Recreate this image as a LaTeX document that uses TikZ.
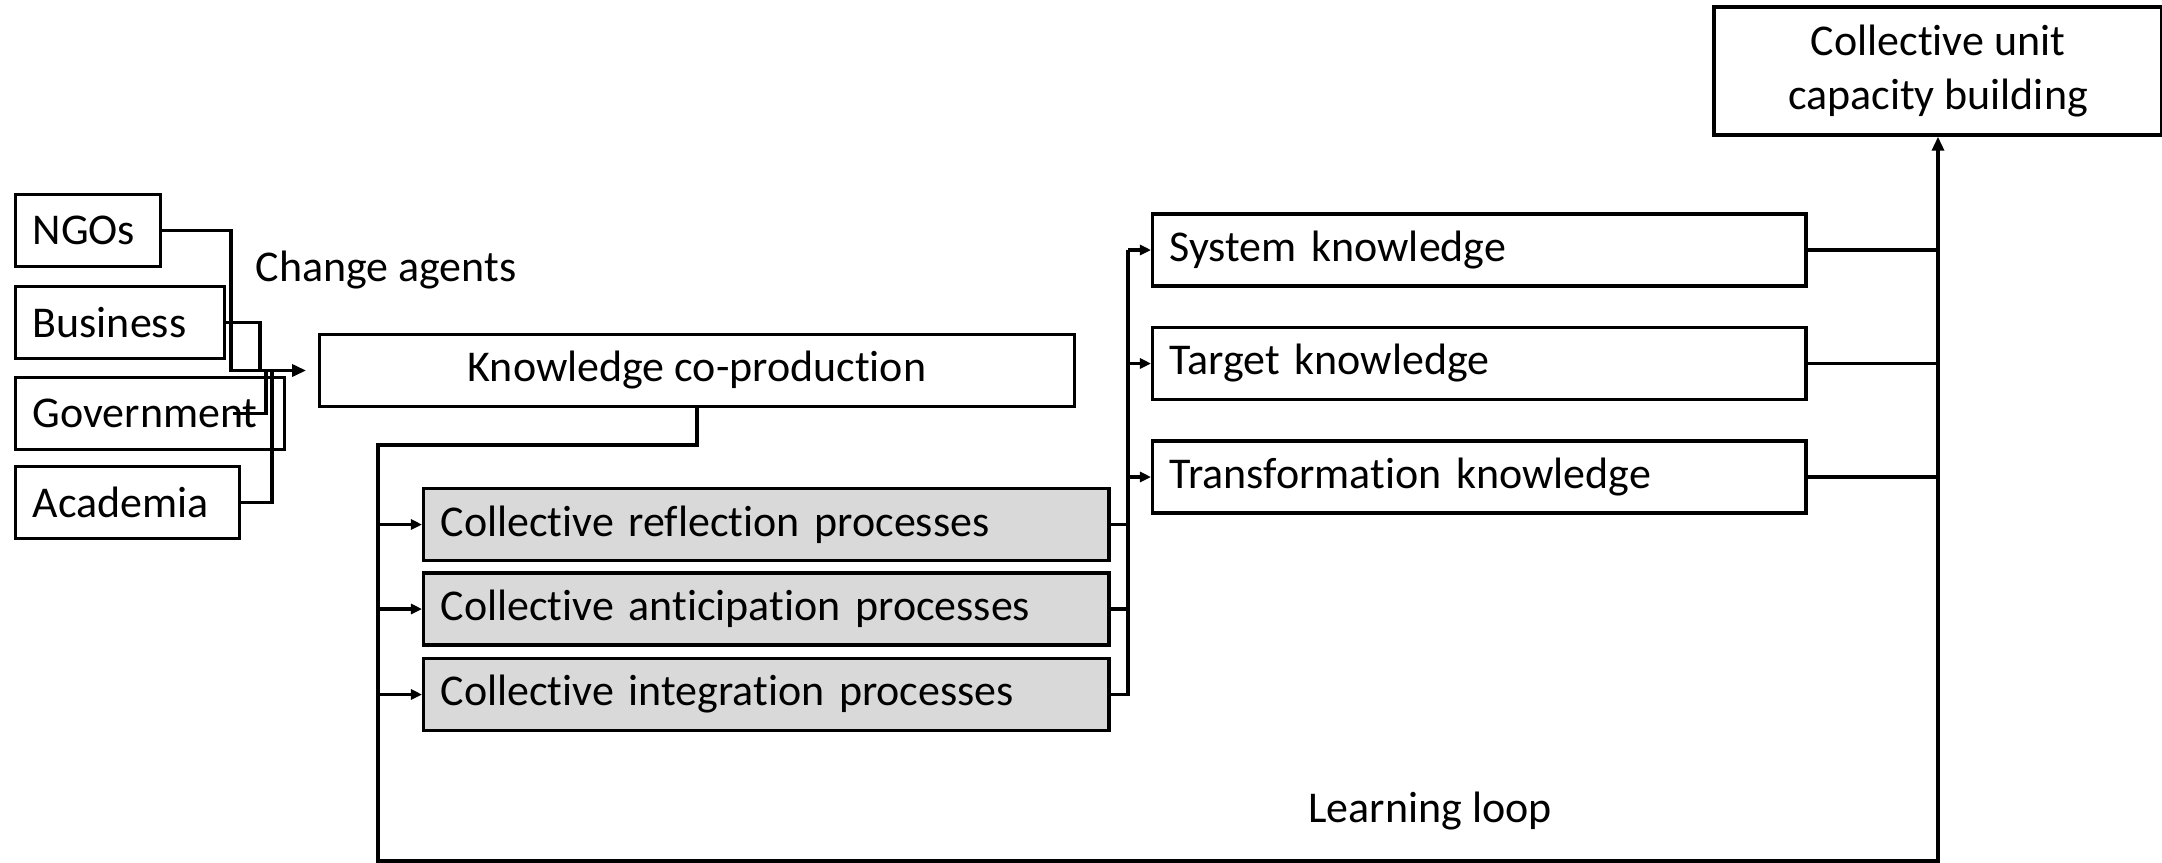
\documentclass[tikz,border=0pt]{standalone}
\usepackage{fontspec}
\setmainfont{Carlito}[Ligatures=NoCommon]
\usetikzlibrary{arrows.meta,calc}
\definecolor{procgray}{RGB}{217,217,217}
\tikzset{
  every node/.append style={font=\fontsize{12.5}{15.3}\selectfont},
  box/.style={draw, inner xsep=0.17cm, inner ysep=0pt, minimum height=0.72cm, align=left, anchor=west},
  agent/.style={box},
  proc/.style={box, fill=procgray, text width=6.51cm},
  know/.style={box, text width=6.19cm},
  arr/.style={-{Triangle[length=0.14cm,width=0.12cm]}},
  smallarr/.style={-{Triangle[length=0.11cm,width=0.1cm]}}
}
\begin{document}
\begin{tikzpicture}[x=0.01cm, y=-0.01cm, line width=0.95pt]
  \useasboundingbox (0,0) rectangle (2162,863);
      \node (ngo) at (14,230.5) [agent, text width=1.11cm] {NGOs};
      \node (bus) at (14,322.5) [agent, text width=1.75cm] {Business};
      \node (gov) at (14,413.5) [agent, text width=2.35cm] {Government};
      \node (aca) at (14,502.5) [agent, text width=1.90cm] {Academia};
      \node (cha) at (386,270) {Change agents};
      \node (kcp) at (697,370.5) [box, anchor=center, minimum width=7.54cm, align=center] {Knowledge co-production};
      \node (refl) at (422,524.5) [proc] {Collective reflection processes};
      \node (anti) at (422,609) [proc] {Collective anticipation processes};
      \node (integ) at (422,694.5) [proc] {Collective integration processes};
      \node (sys) at (1151,250) [know] {System knowledge};
      \node (tgt) at (1151,363.5) [know] {Target knowledge};
      \node (trf) at (1151,477) [know] {Transformation knowledge};
      \node (cucb) at (1938,71) [box, anchor=center, minimum width=4.48cm, minimum height=1.28cm, align=center] {Collective unit\\capacity building};
      \node (loop) at (1430,811) {Learning loop};
      \coordinate (hub) at ($(kcp.west)+(-87,0)$);
      \coordinate (spine) at (378,445);
      \coordinate (fork) at (1128,0);
      \coordinate (trunk) at (1938,861);
      \draw[arr, shorten >=0.12cm] (ngo.east) -| (hub) -- (kcp.west);
      \draw (bus.east) -| ($(kcp.west)+(-58,0)$);
      \draw ($(gov.east)+(-53,0)$) -| ($(kcp.west)+(-52,0)$);
      \draw (aca.east) -| ($(kcp.west)+(-46,0)$);
      \draw[arr] (kcp.south) |- (spine) |- (trunk) -- (cucb.south);
      \foreach \p in {refl,anti,integ}
        \draw[smallarr] (\p.west -| spine) -- (\p.west);
      \foreach \p in {refl,anti}
        \draw (\p.east) -- (\p.east -| fork);
      \draw (integ.east) -| (fork |- sys.west);
      \foreach \k in {sys,tgt,trf} {
        \draw[smallarr] (\k.west -| fork) -- (\k.west);
        \draw (\k.east) -- (\k.east -| trunk);
      }
\end{tikzpicture}
\end{document}
